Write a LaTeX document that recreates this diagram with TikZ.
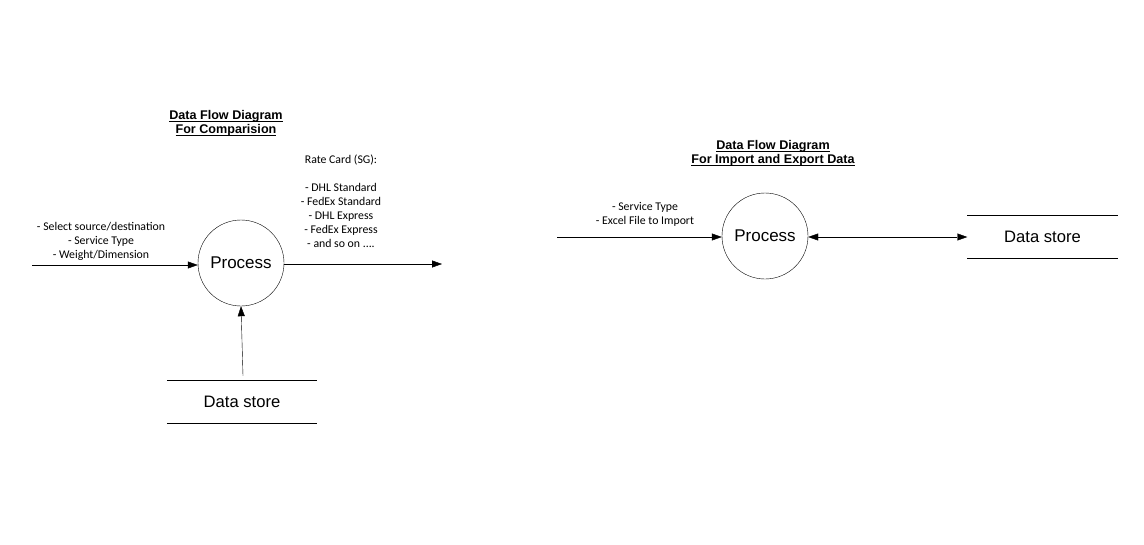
\documentclass[tikz,border=0pt]{standalone}
\usepackage{fontspec}
\setmainfont{Liberation Sans}
\newfontfamily\smallfont{Carlito}
\usetikzlibrary{arrows.meta,positioning}
\newcommand{\titleline}[1]{\setbox0\hbox{#1}\rlap{\rule[-2pt]{\wd0}{0.7pt}}\box0}
\tikzset{
    tip/.tip={Triangle[length=10pt,width=7pt]},
    flow/.style={-tip},
    process/.style={circle, draw, minimum size=86pt, inner sep=0pt, font=\fontsize{17}{20}\selectfont},
    store/.style={minimum width=150pt, minimum height=43pt, inner sep=0pt, font=\fontsize{16.6}{19}\selectfont,
        append after command={(\tikzlastnode.north west) edge[draw] (\tikzlastnode.north east)
                              (\tikzlastnode.south west) edge[draw] (\tikzlastnode.south east)}},
    note/.style={align=center, font=\smallfont\fontsize{11.8}{14}\selectfont},
    heading/.style={align=center, font=\bfseries\fontsize{12.6}{14}\selectfont}
}
\begin{document}
\begin{tikzpicture}[x=1pt, y=-1pt]
        \useasboundingbox (0,0) rectangle (1144,544);
        % comparison diagram
        \node[heading] (T1) at (226,123) {\titleline{Data Flow Diagram}\\\titleline{For Comparision}};
        \node[process] (P1) at (241,263) {Process};
        \node[store] (S1) at (242,401.5) {Data store};
        \coordinate (In1) at (32,265);
        \coordinate (Out1) at (442,264);
        \draw[flow] (In1) -- (P1.west |- In1);
        \draw[flow] (P1.east |- Out1) -- (Out1);
        \draw[flow] (S1.north) ++(1,-4) coordinate (U1) -- (P1.south);
        \node[note] (L1) at (101,241) {- Select source/destination\\- Service Type\\- Weight/Dimension};
        \node[note] (R1) at (341,201.5) {Rate Card (SG):\\[14pt]- DHL Standard\\- FedEx Standard\\- DHL Express\\- FedEx Express\\- and so on ....};
        % import/export diagram
        \node[heading] (T2) at (773,153) {\titleline{Data Flow Diagram}\\\titleline{For Import and Export Data}};
        \node[process] (P2) at (765,236) {Process};
        \node[store] (S2) at (1042.5,236.5) {Data store};
        \coordinate (In2) at (557,237);
        \draw[flow] (In2) -- (P2.west |- In2);
        \draw[tip-tip] (P2.east |- In2) -- (S2.west |- In2);
        \node[note] (L2) at (645,214.5) {- Service Type\\- Excel File to Import};
    \end{tikzpicture}
\end{document}
